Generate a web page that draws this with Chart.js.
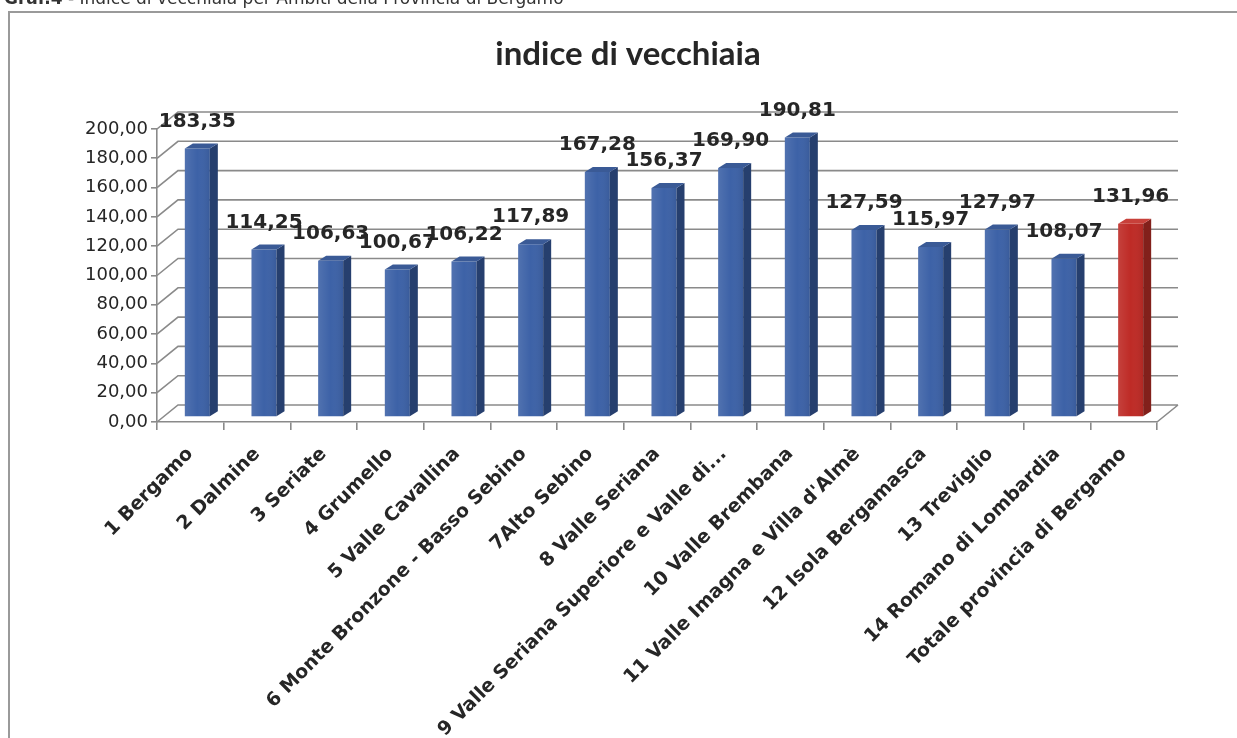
<!DOCTYPE html>
<html>
<head>
<meta charset="utf-8">
<script src="https://cdn.jsdelivr.net/npm/chart.js@4.4.0/dist/chart.umd.min.js"></script>
<style>
html,body{margin:0;padding:0;background:#fff;}
#wrap{position:relative;width:1237px;height:738px;overflow:hidden;}
</style>
</head>
<body>
<div id="wrap"><canvas id="c" width="1237" height="738"></canvas></div>
<script>
const pageCaptionBold = "Graf.4";
const pageCaptionText = " - Indice di vecchiaia per Ambiti della Provincia di Bergamo";
const chartTitle = "indice di vecchiaia";
const categories = [
  "1 Bergamo",
  "2 Dalmine",
  "3 Seriate",
  "4 Grumello",
  "5 Valle Cavallina",
  "6 Monte Bronzone - Basso Sebino",
  "7Alto Sebino",
  "8 Valle Seriana",
  "9 Valle Seriana Superiore e Valle di...",
  "10 Valle Brembana",
  "11 Valle Imagna e Villa d'Almè",
  "12 Isola Bergamasca",
  "13 Treviglio",
  "14 Romano di Lombardia",
  "Totale provincia di Bergamo"
];
const values = [183.35, 114.25, 106.63, 100.67, 106.22, 117.89, 167.28, 156.37, 169.90, 190.81, 127.59, 115.97, 127.97, 108.07, 131.96];
const yTicks = [0, 20, 40, 60, 80, 100, 120, 140, 160, 180, 200];

// style constants
const WALL_DX = 21, WALL_DY = -17;
const BAR_DX = 7, BAR_DY = -5;
const SIDE_DX = 8, SIDE_DY = -5;
const GRID = '#8a8a8a';
const TEXT = '#262626';
const fmt = v => v.toFixed(2).replace('.', ',');

const frontColors = values.map((v, i) => i === values.length - 1 ? '#BE2B26' : '#3D62A7');
const sideColors  = values.map((v, i) => i === values.length - 1 ? '#82201B' : '#263F6E');
const topColors   = values.map((v, i) => i === values.length - 1 ? '#C8403A' : '#3A5A96');

const frame = {
  id: 'frame',
  beforeDraw(chart) {
    const ctx = chart.ctx;
    ctx.save();
    ctx.fillStyle = '#fff';
    ctx.fillRect(0, 0, chart.width, chart.height);
    ctx.strokeStyle = '#9a9a9a';
    ctx.lineWidth = 2;
    ctx.strokeRect(9, 12, 1260, 760);
    ctx.fillStyle = '#333';
    ctx.textBaseline = 'alphabetic';
    ctx.font = 'bold 17px "DejaVu Sans"';
    ctx.fillText(pageCaptionBold, 4, 4);
    const w = ctx.measureText(pageCaptionBold).width;
    ctx.font = '17px "DejaVu Sans"';
    ctx.fillText(pageCaptionText, 4 + w, 4);
    ctx.fillStyle = TEXT;
    ctx.font = 'bold 33px Lato';
    ctx.textAlign = 'center';
    ctx.fillText(chartTitle, 628, 65);
    ctx.restore();
  }
};

const walls = {
  id: 'walls',
  beforeDatasetsDraw(chart) {
    const {ctx, chartArea: a, scales: {y}} = chart;
    ctx.save();
    ctx.strokeStyle = GRID;
    ctx.lineWidth = 1.6;
    ctx.beginPath();
    yTicks.forEach(v => {
      const py = y.getPixelForValue(v);
      ctx.moveTo(a.left, py);
      ctx.lineTo(a.left + WALL_DX, py + WALL_DY);
      ctx.lineTo(a.right + WALL_DX, py + WALL_DY);
    });
    ctx.moveTo(a.right, a.bottom);
    ctx.lineTo(a.right + WALL_DX, a.bottom + WALL_DY);
    ctx.stroke();
    ctx.restore();
  }
};

const bar3d = {
  id: 'bar3d',
  beforeDatasetDraw(chart) {
    chart.ctx.save();
    chart.ctx.translate(BAR_DX, BAR_DY);
  },
  afterDatasetDraw(chart, args) {
    const ctx = chart.ctx;
    args.meta.data.forEach((el, i) => {
      const {x, y, base, width} = el.getProps(['x', 'y', 'base', 'width'], true);
      const l = x - width / 2, r = x + width / 2;
      ctx.fillStyle = sideColors[i];
      ctx.beginPath();
      ctx.moveTo(r, y); ctx.lineTo(r + SIDE_DX, y + SIDE_DY);
      ctx.lineTo(r + SIDE_DX, base + SIDE_DY); ctx.lineTo(r, base);
      ctx.closePath(); ctx.fill();
      ctx.fillStyle = topColors[i];
      ctx.beginPath();
      ctx.moveTo(l, y); ctx.lineTo(l + SIDE_DX, y + SIDE_DY);
      ctx.lineTo(r + SIDE_DX, y + SIDE_DY); ctx.lineTo(r, y);
      ctx.closePath(); ctx.fill();
      const g = ctx.createLinearGradient(l, 0, r, 0);
      g.addColorStop(0, 'rgba(255,255,255,0.10)');
      g.addColorStop(0.5, 'rgba(255,255,255,0.0)');
      g.addColorStop(1, 'rgba(0,0,0,0.08)');
      ctx.fillStyle = g;
      ctx.fillRect(l, y, width, base - y);
    });
    ctx.restore();
  },
  afterDatasetsDraw(chart) {
    const ctx = chart.ctx;
    const meta = chart.getDatasetMeta(0);
    ctx.save();
    ctx.fillStyle = TEXT;
    ctx.font = 'bold 20px "DejaVu Sans"';
    ctx.textAlign = 'center';
    ctx.textBaseline = 'middle';
    meta.data.forEach((el, i) => {
      ctx.fillText(fmt(values[i]), el.x + BAR_DX, el.y + BAR_DY - 27);
    });
    ctx.restore();
  }
};

new Chart(document.getElementById('c'), {
  type: 'bar',
  data: {
    labels: categories,
    datasets: [{
      data: values,
      backgroundColor: frontColors,
      borderWidth: 0,
      barPercentage: 0.375,
      categoryPercentage: 1.0,
      clip: false
    }]
  },
  options: {
    responsive: false,
    animation: false,
    layout: {padding: {left: 10, top: 129, right: 80, bottom: 0}},
    plugins: {legend: {display: false}, tooltip: {enabled: false}, title: {display: false}},
    scales: {
      x: {
        grid: {drawOnChartArea: false, tickLength: 8, color: GRID, lineWidth: 1.6, offset: true},
        border: {color: GRID, width: 1.6},
        ticks: {autoSkip: false, maxRotation: 45, minRotation: 45, padding: 13,
          font: {family: 'DejaVu Sans', weight: 'bold', size: 19}, color: TEXT},
        afterFit(s) { s.height = 738 - 422; }
      },
      y: {
        min: 0, max: 200,
        afterBuildTicks(s) { s.ticks = yTicks.map(v => ({value: v})); },
        ticks: {callback: v => fmt(v), padding: 3,
          font: {family: 'DejaVu Sans', size: 18}, color: TEXT},
        grid: {drawOnChartArea: false, tickLength: 6, color: GRID, lineWidth: 1.6},
        border: {color: GRID, width: 1.6},
        afterFit(s) { s.width = 157 - 10; }
      }
    }
  },
  plugins: [frame, walls, bar3d]
});
</script>
</body>
</html>
